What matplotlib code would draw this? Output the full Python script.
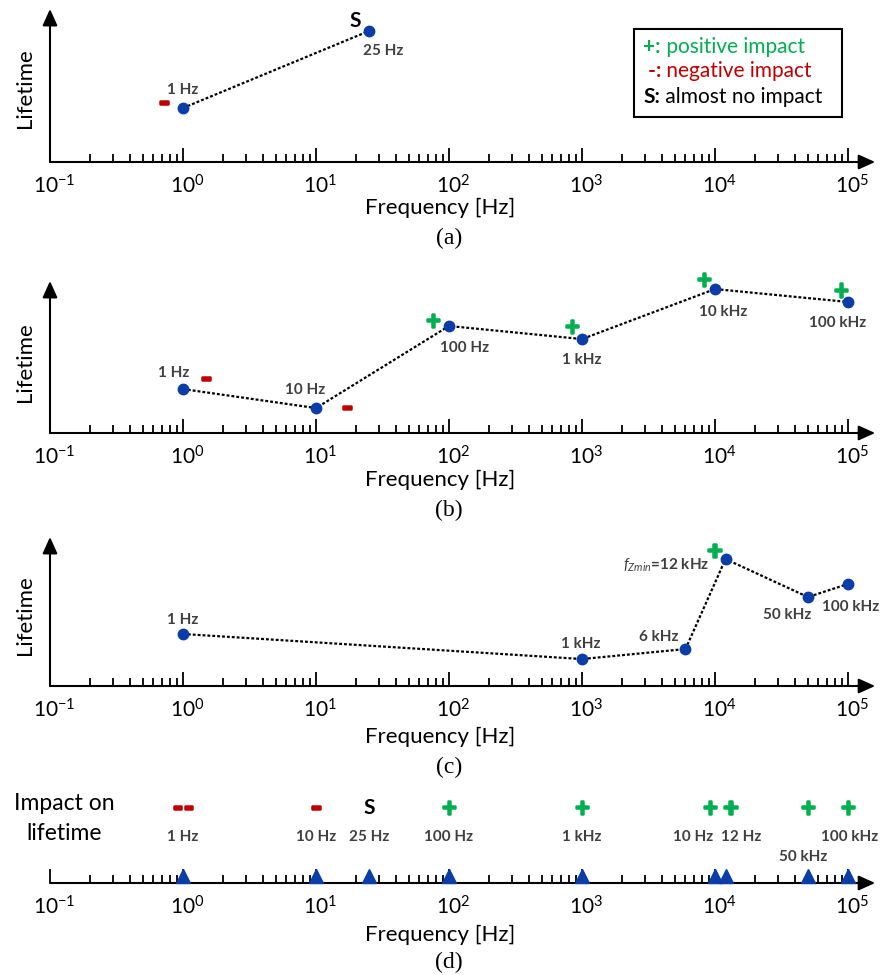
import matplotlib.pyplot as plt
import matplotlib.patheffects as pe
from matplotlib.patches import Rectangle
from matplotlib.ticker import FixedLocator, NullFormatter
from matplotlib.transforms import ScaledTranslation
import numpy as np

plt.rcParams['font.family'] = ['Lato', 'DejaVu Sans']
plt.rcParams['mathtext.fontset'] = 'custom'
plt.rcParams['mathtext.rm'] = 'Lato'
plt.rcParams['mathtext.it'] = 'Lato:italic'
plt.rcParams['mathtext.bf'] = 'Lato:bold'
plt.rcParams['axes.unicode_minus'] = False

BLUE = '#0b3da8'
GREEN = '#00b050'
RED = '#c00000'
GREY = '#3f3f3f'

# panel (a)
freq_a = [1, 25]
life_a = [0.353, 0.856]
lab_a = ['1 Hz', '25 Hz']
sign_a = ['-', 'S']

# panel (b)
freq_b = [1, 10, 100, 1e3, 1e4, 1e5]
life_b = [0.289, 0.164, 0.704, 0.618, 0.947, 0.862]
lab_b = ['1 Hz', '10 Hz', '100 Hz', '1 kHz', '10 kHz', '100 kHz']
sign_b = ['-', '-', '+', '+', '+', '+']

# panel (c)
freq_c = [1, 1e3, 6e3, 12e3, 50e3, 100e3]
life_c = [0.349, 0.181, 0.248, 0.852, 0.597, 0.685]
lab_c = ['1 Hz', '1 kHz', '6 kHz', '$f_{Zmin}$=12 kHz', '50 kHz', '100 kHz']
sign_c = ['', '', '', '+', '', '']

# panel (d) - summary
freq_d = [1, 10, 25, 100, 1e3, 1e4, 12e3, 50e3, 100e3]
lab_d = ['1 Hz', '10 Hz', '25 Hz', '100 Hz', '1 kHz', '10 Hz', '12 Hz', '50 kHz', '100 kHz']
sign_d = ['--', '-', 'S', '+', '+', '+', '+', '+', '+']

decades = [0.1, 1, 10, 100, 1e3, 1e4, 1e5]

# label / sign offsets from their point, in pixels (layout only)
lab_off_a = [(0, 18), (14, -20)]
sign_off_a = [(-19, 5), (-14, 10)]
lab_off_b = [(-9, 16), (-11, 18), (16, -22), (0, -21), (8, -23), (-10, -21)]
sign_off_b = [(23, 10), (31, 0), (-16, 5), (-10, 12), (-11, 9), (-7, 11)]
lab_off_c = [(0, 14), (-1, 15), (-27, 12), (-16, -6), (-21, -18), (3, -23)]
sign_off_c = [None, None, None, (-11, 8), None, None]
lab_off_d = [(0, 46), (0, 46), (0, 46), (0, 46), (0, 46), (-22, 46), (16, 46), (-5, 26), (2, 46)]
sign_off_d = [(0, 75), (0, 75), (0, 75), (0, 75), (0, 75), (-5, 75), (5, 75), (0, 75), (0, 75)]

W, H = 880, 975
L, R = 50, 848
PX = 0.72  # px -> pt at dpi 100

fig = plt.figure(figsize=(W / 100, H / 100), dpi=100)


def ft(x, y, s, **kw):
    kw.setdefault('ha', 'center')
    kw.setdefault('va', 'center')
    return fig.text(x / W, 1 - y / H, s, **kw)


def panel(top, bottom, yarrow=True):
    ax = fig.add_axes([L / W, 1 - bottom / H, (R - L) / W, (bottom - top) / H])
    ax.set_xscale('log')
    ax.set_xlim(0.1, 1e5)
    ax.set_ylim(0, 1)
    for s in ax.spines.values():
        s.set_visible(False)
    ax.patch.set_visible(False)
    ax.set_yticks([])
    minors = [d * k for d in decades[:-1] for k in range(2, 10)]
    ax.xaxis.set_major_locator(FixedLocator(decades))
    ax.xaxis.set_minor_locator(FixedLocator(minors))
    ax.xaxis.set_minor_formatter(NullFormatter())
    ax.tick_params(axis='x', which='major', direction='in', length=10, width=1.3,
                   pad=9, labelsize=15)
    ax.tick_params(axis='x', which='minor', direction='in', length=5.8, width=1.3)
    shift = ScaledTranslation(4 / 100, 0, fig.dpi_scale_trans)
    for lbl in ax.get_xticklabels():
        lbl.set_transform(lbl.get_transform() + shift)
    arrow = dict(arrowstyle='-|>,head_length=1.0,head_width=0.45', lw=1.5,
                 color='k', shrinkA=0, shrinkB=0, mutation_scale=10)
    ax.annotate('', xy=(1.034, 0), xytext=(0, 0), xycoords='axes fraction', arrowprops=arrow)
    if yarrow:
        ax.annotate('', xy=(0, 1), xytext=(0, 0), xycoords='axes fraction', arrowprops=arrow)
    return ax


def put_sign(ax, x, y, s, off):
    if not s:
        return
    dx, dy = off
    if s == 'S':
        ax.annotate('S', (x, y), xytext=(dx * PX, dy * PX), textcoords='offset points',
                    ha='center', va='center', fontsize=15, fontweight='bold', color='k')
        return
    col = GREEN if s == '+' else RED
    size = 19 if s == '+' else 21
    ax.annotate(s, (x, y), xytext=(dx * PX, dy * PX), textcoords='offset points',
                ha='center', va='center', fontsize=size, fontweight='bold', color=col,
                path_effects=[pe.withStroke(linewidth=1.8, foreground=col)])


def put_label(ax, x, y, s, off, ha='center'):
    dx, dy = off
    ax.annotate(s, (x, y), xytext=(dx * PX, dy * PX), textcoords='offset points',
                ha=ha, va='center', fontsize=11, fontweight='bold', color=GREY)


def curve(ax, freq, life, labs, lab_off, signs, sign_off):
    ax.plot(freq, life, ls=(0, (1.3, 0.9)), lw=1.6, color='k', zorder=2)
    ax.plot(freq, life, 'o', color=BLUE, ms=7.5, zorder=3, clip_on=False)
    for i in range(len(freq)):
        ha = 'right' if labs[i].startswith('$f') else 'center'
        put_label(ax, freq[i], life[i], labs[i], lab_off[i], ha=ha)
        if sign_off[i] is not None:
            put_sign(ax, freq[i], life[i], signs[i], sign_off[i])


# (a)
ax_a = panel(9, 162)
curve(ax_a, freq_a, life_a, lab_a, lab_off_a, sign_a, sign_off_a)

# (b)
ax_b = panel(281, 433)
curve(ax_b, freq_b, life_b, lab_b, lab_off_b, sign_b, sign_off_b)

# (c)
ax_c = panel(537, 686)
curve(ax_c, freq_c, life_c, lab_c, lab_off_c, sign_c, sign_off_c)

# (d)
ax_d = panel(850, 883, yarrow=False)
zeros = np.zeros(len(freq_d))
lift = ax_d.transData + ScaledTranslation(0, 5 / 72, fig.dpi_scale_trans)
ax_d.plot(freq_d, zeros, '^', ms=10, color=BLUE, transform=lift, clip_on=False, zorder=3)
for i in range(len(freq_d)):
    put_label(ax_d, freq_d[i], 0, lab_d[i], lab_off_d[i])
    put_sign(ax_d, freq_d[i], 0, sign_d[i], sign_off_d[i])

# axis titles and captions
for y in (88, 362, 615):
    ft(25, y, 'Lifetime', rotation=90, fontsize=16)
for y in (208, 480, 737, 935):
    ft(440, y, 'Frequency [Hz]', fontsize=16)
for y, s in zip((238, 510, 767, 962), ('(a)', '(b)', '(c)', '(d)')):
    ft(449, y, s, fontsize=17, family='Liberation Serif')
ft(64, 804, 'Impact on', fontsize=16.5)
ft(64, 833, 'lifetime', fontsize=16.5)

# legend box in panel (a)
fig.add_artist(Rectangle((634 / W, 1 - 117 / H), 208 / W, 88 / H,
                         transform=fig.transFigure, fill=False, lw=1.5, ec='k'))
legend_rows = [('+:', ' positive impact', GREEN, 47),
               (' -:', ' negative impact', RED, 71),
               ('S:', ' almost no impact', 'k', 97)]
for pre, rest, col, y in legend_rows:
    t = ft(643, y, pre, ha='left', fontsize=15, fontweight='bold', color=col)
    ax_a.annotate(rest, xy=(1, 0), xycoords=t, ha='left', va='bottom',
                  fontsize=15, color=col)

fig.savefig('out.png', dpi=100)
